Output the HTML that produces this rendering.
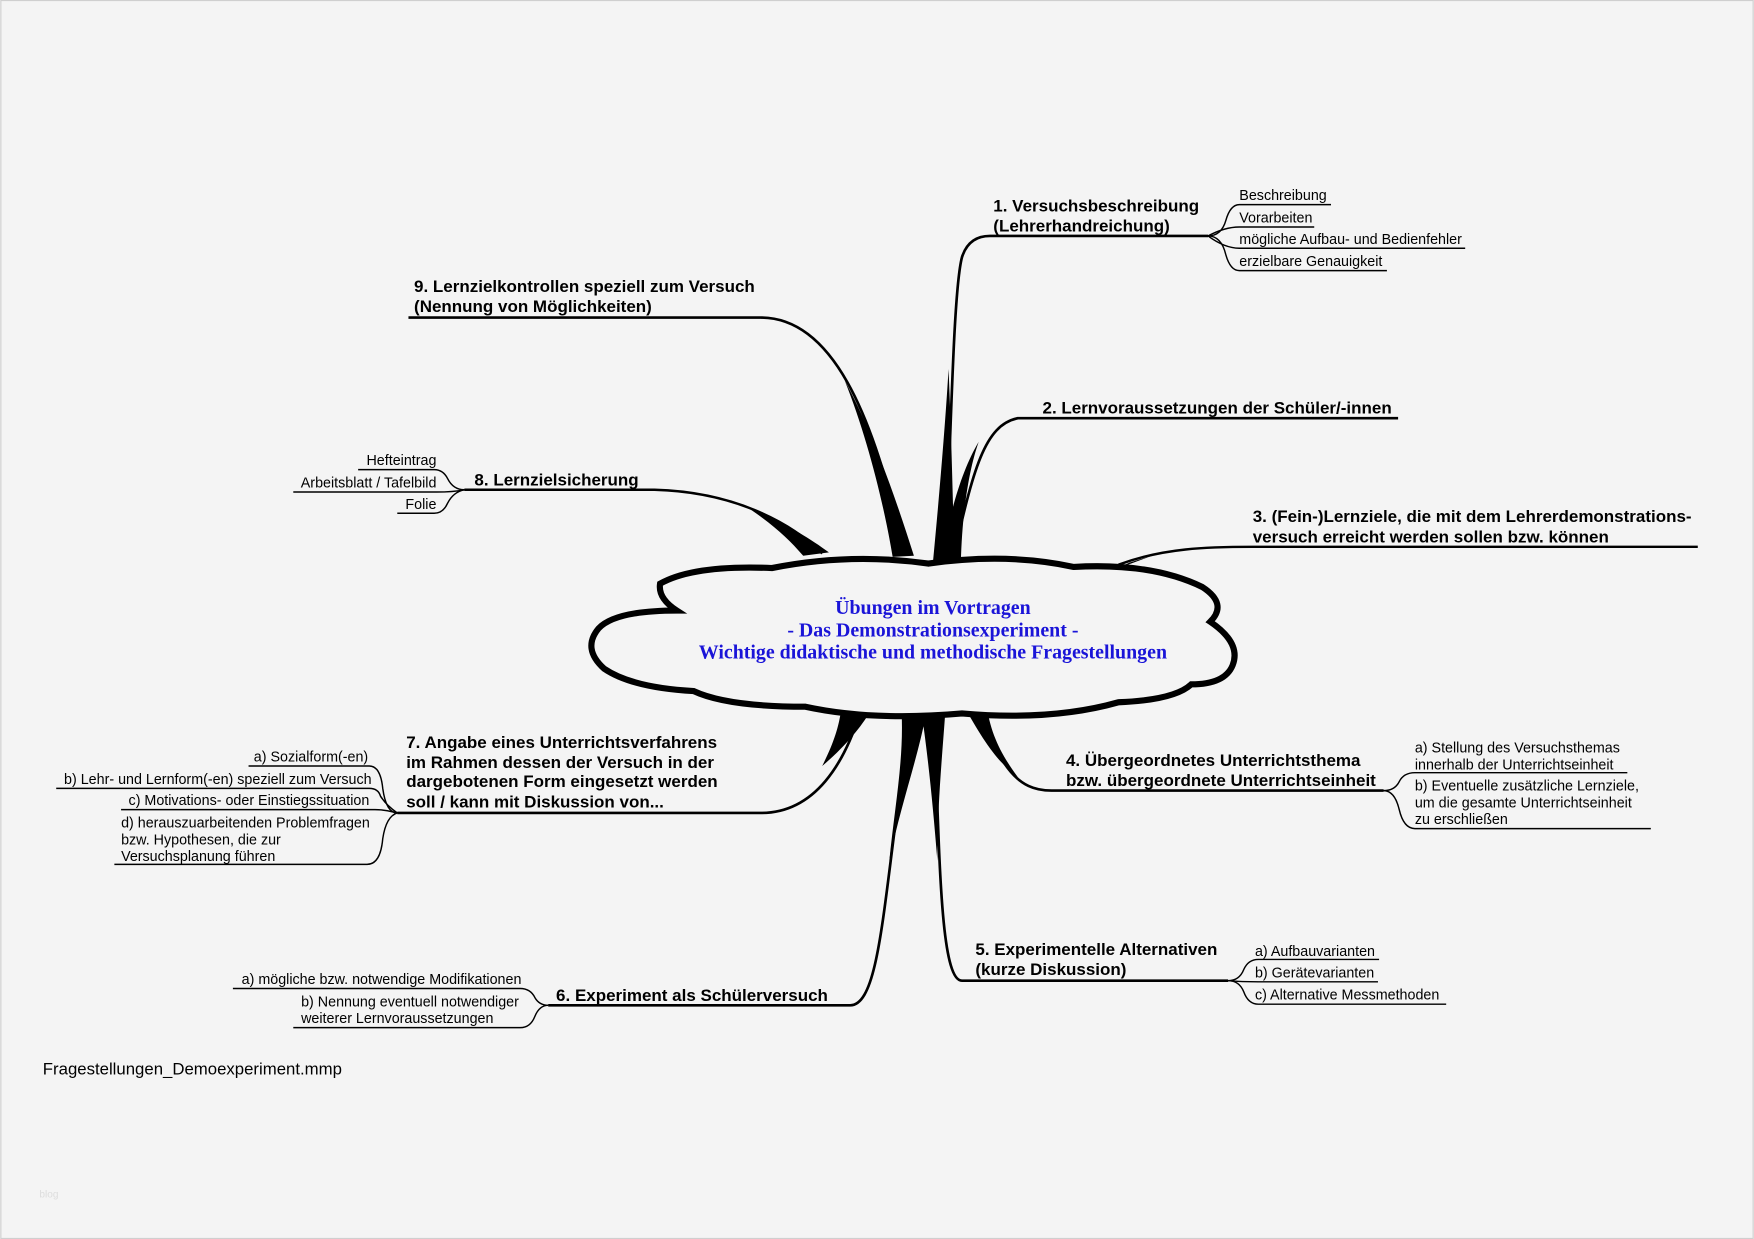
<!DOCTYPE html>
<html><head><meta charset="utf-8"><style>
html,body{margin:0;padding:0;background:#f4f4f4;}
svg{display:block;}
text{font-family:"Liberation Sans",sans-serif;fill:#000;}
.b{font-weight:bold;font-size:15.2px;}
.s{font-size:12.8px;}
.c{font-family:"Liberation Serif",serif;font-weight:bold;font-size:17.8px;fill:#1a14d8;}
</style></head><body>
<svg width="1754" height="1239" viewBox="0 0 1568 1108" xmlns="http://www.w3.org/2000/svg">
<rect x="0.5" y="0.5" width="1567" height="1107" fill="#f4f4f4" stroke="#cfcfcf"/>
<g fill="none" stroke="#000" stroke-width="1.3">
<path d="M845 500 C850 400 852 260 860 230 Q866 211 885 211 L1080 211" stroke-width="2.4"/>
<path d="M1080 211 Q1092 211 1096 197 Q1100 183 1108 183 L1190 183"/>
<path d="M1080 211 Q1095 203 1108 203 L1175 203"/>
<path d="M1080 211 Q1095 222 1108 222 L1310 222"/>
<path d="M1080 211 Q1092 211 1096 228 Q1100 242 1108 242 L1240 242"/>
<path d="M852 500 C870 420 880 380 910 374 L1250 374" stroke-width="2.4"/>
<path d="M1000 505 C1040 490 1080 489 1120 489 L1518 489" stroke-width="2.2"/>
<path d="M365 284 L680 284 C760 284 790 420 810 497" stroke-width="2.4"/>
<path d="M415 438 L585 438 C660 440 710 470 735 495" stroke-width="2.2"/>
<path d="M415 438 Q405 438 400 428 Q396 420 388 420 L320 420"/>
<path d="M415 438 Q405 440 390 440 L262 440"/>
<path d="M415 438 Q405 440 400 450 Q396 459 388 459 L355 459"/>
<path d="M355 727 L680 727 C730 727 755 680 768 640" stroke-width="2.4"/>
<path d="M355 727 Q345 727 342 705 Q340 685 330 685 L222 685"/>
<path d="M355 727 Q345 720 340 712 Q338 705 330 705 L50 705"/>
<path d="M355 727 Q345 724 335 724 L108 724"/>
<path d="M355 727 Q345 730 342 750 Q340 773 328 773 L102 773"/>
<path d="M490 899 L760 899 C790 899 790 780 815 640" stroke-width="2.4"/>
<path d="M490 899 Q482 899 478 892 Q474 884 465 884 L208 884"/>
<path d="M490 899 Q482 899 478 909 Q474 919 465 919 L262 919"/>
<path d="M835 640 C840 760 840 877 860 877 L1098 877" stroke-width="2.4"/>
<path d="M1098 877 Q1108 877 1112 867 Q1116 858 1125 858 L1233 858"/>
<path d="M1098 877 Q1110 878 1125 878 L1232 878"/>
<path d="M1098 877 Q1108 877 1112 887 Q1116 898 1125 898 L1293 898"/>
<path d="M870 630 C895 680 905 707 940 707 L1237 707" stroke-width="2.4"/>
<path d="M1237 707 Q1247 707 1251 699 Q1255 691 1265 691 L1455 691"/>
<path d="M1237 707 Q1247 707 1251 724 Q1255 741 1265 741 L1476 741"/>
</g>
<g fill="#000">
<path d="M798 498 C790 450 775 390 755 340 C782 390 802 450 817 497 Z"/>
<path d="M718 497 C705 482 692 470 670 455 C700 467 722 480 741 494 Z"/>
<path d="M834 503 C840 440 845 380 848 330 C850 380 852 440 853 503 Z"/>
<path d="M842 503 C848 460 860 420 875 395 C866 420 860 460 859 503 Z"/>
<path d="M995 510 L1010 503 L1030 497 Z"/>
<path d="M752 634 C750 650 745 665 735 685 C755 668 770 650 778 636 Z"/>
<path d="M806 637 C808 680 800 720 795 770 C805 720 820 680 828 638 Z"/>
<path d="M824 638 C830 680 834 720 838 770 C838 720 842 680 845 638 Z"/>
<path d="M862 632 C878 660 890 680 910 695 C895 675 885 655 882 630 Z"/>
</g>
<path d="M590 522 Q620 505 690 508 Q760 494 830 504 Q900 494 960 507 Q1030 503 1075 525 Q1098 540 1082 556 Q1110 575 1102 595 Q1095 612 1065 612 Q1050 626 1000 628 Q940 645 860 638 Q780 645 720 632 Q650 632 620 618 Q565 615 540 598 Q520 580 535 562 Q550 546 605 546 Q588 535 590 522 Z" fill="#f4f4f4" stroke="#000" stroke-width="5.5"/>
<text class="c" x="834" y="549" text-anchor="middle">Übungen im Vortragen</text>
<text class="c" x="834" y="569" text-anchor="middle">- Das Demonstrationsexperiment -</text>
<text class="c" x="834" y="589" text-anchor="middle">Wichtige didaktische und methodische Fragestellungen</text>
<text class="b" x="888" y="189">1. Versuchsbeschreibung</text>
<text class="b" x="888" y="207">(Lehrerhandreichung)</text>
<text class="s" x="1108" y="179">Beschreibung</text>
<text class="s" x="1108" y="199">Vorarbeiten</text>
<text class="s" x="1108" y="218">mögliche Aufbau- und Bedienfehler</text>
<text class="s" x="1108" y="238">erzielbare Genauigkeit</text>
<text class="b" x="932" y="370">2. Lernvoraussetzungen der Schüler/-innen</text>
<text class="b" x="1120" y="467">3. (Fein-)Lernziele, die mit dem Lehrerdemonstrations-</text>
<text class="b" x="1120" y="485">versuch erreicht werden sollen bzw. können</text>
<text class="b" x="370" y="261">9. Lernzielkontrollen speziell zum Versuch</text>
<text class="b" x="370" y="279">(Nennung von Möglichkeiten)</text>
<text class="b" x="424" y="434">8. Lernzielsicherung</text>
<text class="s" x="390" y="416" text-anchor="end">Hefteintrag</text>
<text class="s" x="390" y="436" text-anchor="end">Arbeitsblatt / Tafelbild</text>
<text class="s" x="390" y="455" text-anchor="end">Folie</text>
<text class="b" x="363" y="669">7. Angabe eines Unterrichtsverfahrens</text>
<text class="b" x="363" y="687">im Rahmen dessen der Versuch in der</text>
<text class="b" x="363" y="704">dargebotenen Form eingesetzt werden</text>
<text class="b" x="363" y="722">soll / kann mit Diskussion von...</text>
<text class="s" x="329" y="681" text-anchor="end">a) Sozialform(-en)</text>
<text class="s" x="332" y="701" text-anchor="end">b) Lehr- und Lernform(-en) speziell zum Versuch</text>
<text class="s" x="330" y="720" text-anchor="end">c) Motivations- oder Einstiegssituation</text>
<text class="s" x="108" y="740">d) herauszuarbeitenden Problemfragen</text>
<text class="s" x="108" y="755">bzw. Hypothesen, die zur</text>
<text class="s" x="108" y="770">Versuchsplanung führen</text>
<text class="b" x="497" y="895">6. Experiment als Schülerversuch</text>
<text class="s" x="466" y="880" text-anchor="end">a) mögliche bzw. notwendige Modifikationen</text>
<text class="s" x="269" y="900">b) Nennung eventuell notwendiger</text>
<text class="s" x="269" y="915"> weiterer Lernvoraussetzungen</text>
<text class="b" x="872" y="854">5. Experimentelle Alternativen</text>
<text class="b" x="872" y="872">(kurze Diskussion)</text>
<text class="s" x="1122" y="855">a) Aufbauvarianten</text>
<text class="s" x="1122" y="874">b) Gerätevarianten</text>
<text class="s" x="1122" y="894">c) Alternative Messmethoden</text>
<text class="b" x="953" y="685">4. Übergeordnetes Unterrichtsthema</text>
<text class="b" x="953" y="703">bzw. übergeordnete Unterrichtseinheit</text>
<text class="s" x="1265" y="673">a) Stellung des Versuchsthemas</text>
<text class="s" x="1265" y="688">innerhalb der Unterrichtseinheit</text>
<text class="s" x="1265" y="707">b) Eventuelle  zusätzliche Lernziele,</text>
<text class="s" x="1265" y="722">um die gesamte Unterrichtseinheit</text>
<text class="s" x="1265" y="737"> zu erschließen</text>
<text x="38" y="961" style="font-size:15px">Fragestellungen_Demoexperiment.mmp</text>
<text x="35" y="1071" style="font-size:9px;fill:#ddd">blog</text>
</svg>
</body></html>
